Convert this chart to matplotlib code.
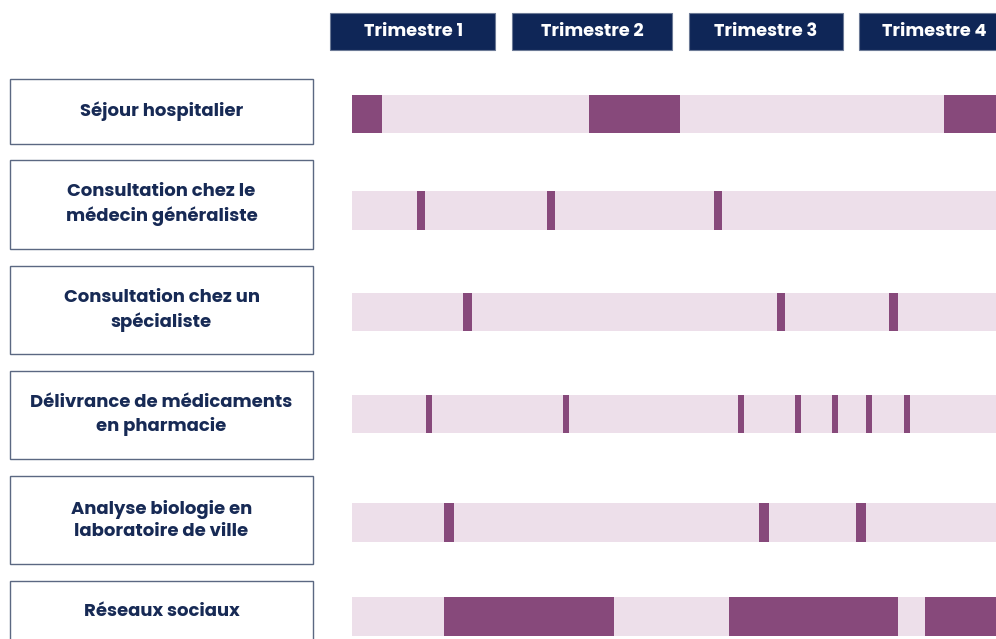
import matplotlib.pyplot as plt
from matplotlib.patches import Rectangle

# données : semaines de l'année (0 -> 52), (début, durée)
quarters = ['Trimestre 1', 'Trimestre 2', 'Trimestre 3', 'Trimestre 4']
categories = ['Séjour hospitalier',
              'Consultation chez le\nmédecin généraliste',
              'Consultation chez un\nspécialiste',
              'Délivrance de médicaments\nen pharmacie',
              'Analyse biologie en\nlaboratoire de ville',
              'Réseaux sociaux']
sejour = [(0, 2.45), (19.1, 7.4), (47.8, 4.2)]
generaliste = [(5.25, 0.65), (15.75, 0.65), (29.25, 0.65)]
specialiste = [(9.0, 0.68), (34.3, 0.68), (43.4, 0.65)]
pharmacie = [(5.95, 0.48), (17.05, 0.48), (31.15, 0.48), (35.75, 0.48),
             (38.75, 0.48), (41.5, 0.48), (44.55, 0.48)]
laboratoire = [(7.45, 0.8), (32.85, 0.8), (40.7, 0.8)]
reseaux = [(7.45, 13.7), (30.45, 13.6), (46.25, 5.75)]
series = [sejour, generaliste, specialiste, pharmacie, laboratoire, reseaux]
year_weeks = 52

DARK = '#87497b'
LIGHT = '#eddfea'
NAVY = '#0f2657'
TXT = '#172a55'
EDGE = '#5b6882'
FONT = ['Poppins', 'Open Sans', 'DejaVu Sans']

# mise en page en pixels
W, H = 996, 639
bar_y = [114, 210.5, 312, 414, 522.5, 616.5]
bar_h = 38.5
box_top = [79, 160, 266, 371, 476, 581]
box_bot = [144, 249, 354, 459, 564, 652]
text_y = [111, 204.5, 310.5, 415, 520.5, 612]
head_x = [(330, 495), (512, 672), (689, 843), (859, 1000)]
head_tx = [413.5, 592, 766, 934]

fig = plt.figure(figsize=(W / 100, H / 100), dpi=100)
bg = fig.add_axes([0, 0, 1, 1])
bg.set_xlim(0, W)
bg.set_ylim(H, 0)
bg.axis('off')

for (x0, x1), tx, q in zip(head_x, head_tx, quarters):
    bg.add_patch(Rectangle((x0, 13), x1 - x0, 37, facecolor=NAVY,
                           edgecolor='#6c7a96', lw=0.8))
    bg.text(tx, 32.5, q, ha='center', va='center', color='white',
            fontsize=12.8, fontweight='bold', family=FONT)

for t, b, ty, lab in zip(box_top, box_bot, text_y, categories):
    bg.add_patch(Rectangle((10, t), 303, b - t, facecolor='white',
                           edgecolor=EDGE, lw=1.0))
    bg.text(161.5, ty, lab, ha='center', va='center', color=TXT,
            fontsize=13, fontweight='bold', family=FONT, linespacing=1.38)

ax = fig.add_axes([352 / W, 0, 1 - 352 / W, 1])
ax.set_xlim(0, year_weeks)
ax.set_ylim(H, 0)
ax.axis('off')
for y, ev in zip(bar_y, series):
    ax.broken_barh([(0, year_weeks)], (y - bar_h / 2, bar_h),
                   facecolors=LIGHT)
    ax.broken_barh(ev, (y - bar_h / 2, bar_h), facecolors=DARK)

fig.savefig('out.png', dpi=100)
